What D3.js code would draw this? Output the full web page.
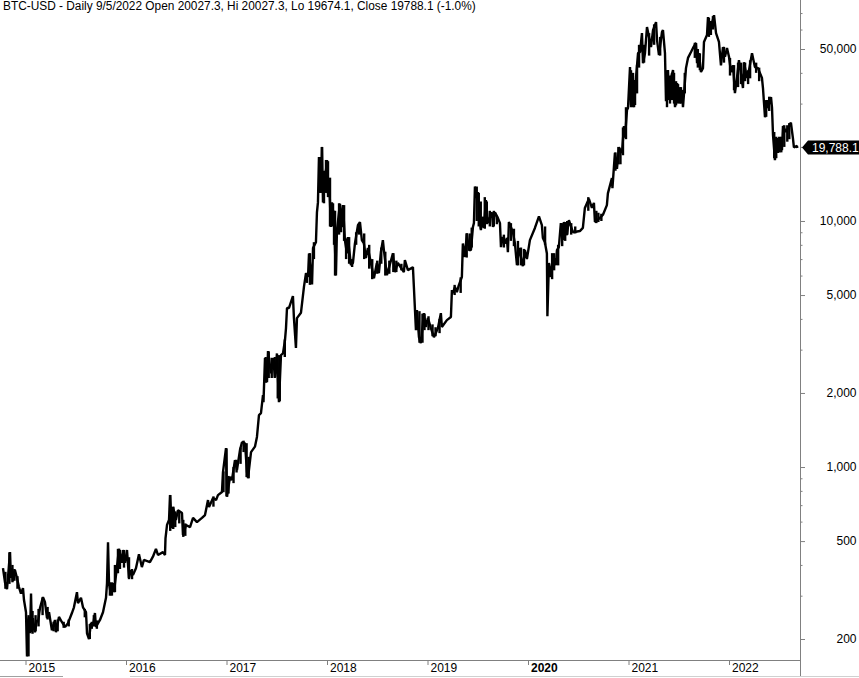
<!DOCTYPE html>
<html>
<head>
<meta charset="utf-8">
<script src="https://cdn.jsdelivr.net/npm/d3@7"></script>
<style>
  html, body { margin: 0; padding: 0; background: #fff; }
  svg { display: block; font-family: "Liberation Sans", Arial, sans-serif; }
</style>
</head>
<body>
<svg id="chart" width="859" height="678"></svg>
<script>
// Values: decimal year and price
const dates = [
  2014.776,2014.796,2014.816,2014.826,2014.846,2014.855,2014.865,2014.875,2014.895,2014.915,2014.935,2014.955,2014.975,2014.985,
  2015.005,2015.015,2015.025,2015.035,2015.045,2015.055,2015.064,2015.074,2015.094,2015.114,2015.124,2015.144,2015.174,2015.194,2015.214,2015.234,2015.263,2015.293,2015.303,2015.333,2015.363,2015.393,2015.423,2015.462,2015.482,2015.512,2015.522,2015.552,2015.572,2015.602,2015.612,2015.632,2015.651,2015.671,2015.691,2015.701,2015.741,2015.771,2015.801,2015.811,2015.821,2015.831,2015.850,2015.870,2015.880,2015.910,2015.930,2015.960,2015.970,2015.990,
  2016.010,2016.029,2016.049,2016.069,2016.099,2016.129,2016.158,2016.178,2016.238,2016.268,2016.298,2016.318,2016.368,2016.388,2016.393,2016.408,2016.428,2016.438,2016.458,2016.468,2016.497,2016.517,2016.557,2016.567,2016.597,2016.637,2016.667,2016.706,2016.756,2016.786,2016.816,2016.826,2016.866,2016.896,2016.915,2016.955,2016.965,2016.995,
  2017.005,2017.035,2017.054,2017.084,2017.104,2017.134,2017.154,2017.184,2017.204,2017.214,2017.244,2017.283,2017.303,2017.323,2017.343,2017.363,2017.368,2017.383,2017.403,2017.413,2017.443,2017.463,2017.483,2017.502,2017.522,2017.542,2017.562,2017.582,2017.592,2017.602,2017.622,2017.661,2017.671,2017.691,2017.701,2017.741,2017.771,2017.791,2017.811,2017.821,2017.851,2017.861,2017.890,2017.900,2017.910,2017.920,2017.940,2017.950,2017.960,2017.980,
  2018.000,2018.010,2018.020,2018.039,2018.049,2018.069,2018.089,2018.099,2018.129,2018.149,2018.159,2018.178,2018.198,2018.208,2018.238,2018.258,2018.278,2018.308,2018.328,2018.347,2018.367,2018.387,2018.407,2018.437,2018.467,2018.496,2018.516,2018.536,2018.556,2018.566,2018.596,2018.656,2018.676,2018.705,2018.765,2018.775,2018.805,2018.855,2018.865,2018.885,2018.895,2018.915,2018.934,2018.964,2018.984,
  2019.004,2019.034,2019.064,2019.104,2019.133,2019.143,2019.193,2019.233,2019.243,2019.253,2019.273,2019.292,2019.312,2019.342,2019.352,2019.372,2019.392,2019.412,2019.432,2019.452,2019.462,2019.472,2019.492,2019.502,2019.531,2019.551,2019.561,2019.581,2019.601,2019.641,2019.651,2019.671,2019.700,2019.721,2019.731,2019.750,2019.770,2019.790,2019.800,2019.810,2019.850,2019.870,2019.890,2019.909,2019.949,2019.969,2019.989,
  2020.019,2020.069,2020.109,2020.138,2020.148,2020.168,2020.188,2020.193,2020.208,2020.228,2020.248,2020.278,2020.288,2020.307,2020.327,2020.347,2020.357,2020.387,2020.407,2020.447,2020.516,2020.546,2020.566,2020.606,2020.636,2020.656,2020.666,2020.716,2020.746,2020.785,2020.795,2020.835,2020.840,2020.865,2020.885,2020.905,2020.935,2020.955,2020.965,2020.985,2020.995,
  2021.015,2021.025,2021.035,2021.055,2021.075,2021.095,2021.115,2021.134,2021.144,2021.164,2021.184,2021.224,2021.244,2021.274,2021.284,2021.303,2021.333,2021.343,2021.363,2021.373,2021.393,2021.403,2021.423,2021.443,2021.463,2021.483,2021.502,2021.532,2021.542,2021.572,2021.592,2021.622,2021.642,2021.672,2021.682,2021.701,2021.721,2021.741,2021.751,2021.781,2021.791,2021.811,2021.831,2021.851,2021.871,2021.900,2021.920,2021.940,2021.960,2021.980,
  2022.000,2022.020,2022.040,2022.059,2022.079,2022.099,2022.139,2022.149,2022.179,2022.199,2022.229,2022.258,2022.288,2022.328,2022.338,2022.358,2022.378,2022.388,2022.418,2022.428,2022.438,2022.457,2022.477,2022.487,2022.507,2022.527,2022.537,2022.567,2022.616,2022.636,2022.646,2022.676,2022.680
];
const prices = [
  388,340,319,357,451,354,388,344,381,354,325,306,322,288,
  257,170,232,246,211,306,213,243,213,239,234,267,296,282,243,257,217,239,213,246,234,224,232,255,269,310,280,294,269,257,211,200,232,226,255,224,239,257,294,337,495,337,302,337,310,392,465,408,460,408,
  460,354,381,364,388,442,392,419,411,432,465,439,451,439,513,581,609,769,564,687,609,668,650,529,581,570,621,597,621,638,734,687,749,734,769,791,954,1194,
  757,912,885,1067,972,1172,1261,1249,954,902,1150,1210,1325,1626,1655,1960,1835,2770,2210,2960,2405,2770,2320,2895,1835,2850,2895,3280,3670,4430,4430,4950,4030,3050,4030,4240,5410,6140,5920,7380,5520,7760,8200,10850,11900,18200,13100,20000,11900,14660,
  17680,12950,14950,9450,11900,10300,6000,9181,11750,9450,11600,8361,7380,8600,6610,6750,8100,9620,9900,8361,8100,7070,7760,6750,5850,6750,6140,7460,8361,7614,6020,7380,6200,6750,6200,6934,6314,6490,5340,3602,4343,3370,3190,4220,3710,
  4030,3670,3370,3670,4220,3710,3955,4070,5237,5090,5400,5140,5490,5920,8100,7140,8900,7614,7614,9450,9800,13800,12400,13100,9181,10400,9370,12160,9800,10850,9450,10850,10300,9800,7830,8600,8100,8530,7460,9900,9000,8100,6610,7760,6550,7614,7000,
  8361,9370,10450,9620,8530,8200,7380,4100,6750,5920,7270,6610,7614,7830,9800,8361,9900,8760,10080,9000,9100,9370,11300,12300,11300,11850,9900,10300,10600,11600,12950,14950,13600,18900,16300,19900,18900,24300,21800,28230,28800,
  42200,29000,39900,29000,38400,48100,48600,58000,43800,48100,61400,50900,59670,64300,54340,47200,58600,59670,48100,30700,41040,31000,38100,41040,29000,36300,31900,34040,29000,41800,46000,48600,50500,52900,43800,48100,40300,41800,53400,57000,67400,58600,63800,68600,58000,53400,42900,50900,46500,50500,
  46500,40300,42900,33100,38100,45070,34700,44200,38100,41040,48100,42200,41800,38100,34700,26400,31000,28800,31900,28800,22300,17680,21700,18900,21900,19410,24300,23000,25100,21700,19900,20200,19788.1
];

// High/low ranges read where the daily bars pile up into a thick band
const barDates = [
  2014.80,2014.84,2014.87,2014.89,2014.92,
  2015.03,2015.07,2015.10,2015.13,2015.17,2015.22,2015.28,2015.32,2015.38,2015.43,2015.59,2015.64,2015.66,2015.68,2015.71,2015.84,2015.86,2015.89,2015.92,2015.94,2015.98,
  2016.03,2016.06,2016.44,2016.47,2016.49,2016.53,2016.57,2016.59,2016.87,2016.97,
  2017.00,2017.02,2017.07,2017.10,2017.14,2017.17,2017.20,2017.22,2017.39,2017.42,2017.45,2017.48,2017.51,2017.53,2017.58,2017.80,2017.83,2017.87,2017.93,2017.95,2017.97,2017.99,
  2018.01,2018.03,2018.06,2018.07,2018.08,2018.12,2018.14,2018.17,2018.19,2018.22,2018.25,2018.29,2018.32,2018.37,2018.42,2018.45,2018.50,2018.54,2018.58,2018.62,2018.66,2018.69,2018.74,2018.92,2018.95,2018.97,
  2019.01,2019.05,2019.08,2019.12,2019.27,2019.33,2019.39,2019.42,2019.44,2019.49,2019.51,2019.53,2019.57,2019.59,2019.62,2019.66,2019.69,2019.76,2019.83,2019.86,2019.90,2019.93,2019.96,
  2020.17,2020.24,2020.26,2020.30,2020.34,2020.37,2020.39,2020.43,2020.47,2020.60,2020.68,2020.70,2020.73,2020.87,2020.90,2020.92,2020.945,2020.975,
  2021.025,2021.045,2021.065,2021.085,2021.105,2021.155,2021.205,2021.255,2021.315,2021.383,2021.413,2021.433,2021.453,2021.473,2021.493,2021.512,2021.522,2021.56,2021.66,2021.69,2021.71,2021.80,2021.82,2021.84,2021.95,
  2022.01,2022.05,2022.09,2022.12,2022.16,2022.19,2022.21,2022.27,2022.30,2022.37,2022.40,2022.45,2022.47,2022.50,2022.52,2022.55,2022.58,2022.60
];
const barHighs = [
  375,450,400,385,360,
  250,260,250,265,295,270,235,240,235,240,265,230,235,250,238,340,340,400,465,460,460,
  430,385,770,690,660,660,610,590,760,960,
  1190,920,1000,1070,1200,1280,1250,1100,2800,2950,2780,2800,2850,2850,3300,6100,7400,8200,18200,20000,16000,17700,
  17500,15000,11800,11000,11000,11800,11000,11600,8500,8600,7000,9000,9800,8900,8000,7000,6900,7800,7500,6900,7400,6900,6700,4300,4200,4200,
  4100,3800,3700,4000,5500,5900,8900,8900,9400,13800,13000,12000,12500,12000,11000,11000,10500,8800,9800,9300,8300,7800,7700,
  9500,7400,7400,8000,9800,9900,10000,9800,9500,12500,11000,10800,10700,19000,20000,19500,24000,29000,
  41000,40000,37400,43000,52000,52000,58000,63000,56000,41000,39000,40000,40000,37000,36000,35000,35000,40000,53000,50000,48000,67000,65000,68000,51000,
  46000,43000,44000,44000,44000,41000,45000,44000,42000,31000,32000,23000,22000,22000,22000,24500,24500,25000
];
const barLows = [
  320,335,340,345,320,
  170,210,215,225,250,240,215,215,222,225,245,200,220,225,220,300,300,310,370,385,390,
  350,350,550,560,570,590,520,525,690,790,
  760,780,860,950,1030,1150,910,900,2200,2300,2300,2300,1900,1850,2800,5600,5500,7000,13000,13000,11800,13000,
  12500,9500,9500,8000,6000,8800,9000,8300,7000,6700,6500,8000,8800,7000,6400,5800,6100,6700,6000,6100,6200,6200,6300,3200,3200,3600,
  3600,3400,3400,3500,5000,5100,7100,7600,7800,10000,9500,9300,9300,9700,9500,9500,9700,7800,8300,7900,6600,6600,6600,
  8000,5800,6300,6600,7900,8300,8800,8800,8900,11000,9800,9900,10000,16000,17000,17000,18500,21500,
  29600,29000,29600,33000,42000,44000,47000,52000,47000,29000,30000,31000,30000,29500,30000,30000,30000,33000,46000,42000,41000,56000,57000,60000,44000,
  39000,34000,35000,36000,37000,36000,38000,40000,37000,26500,28000,18000,18000,19000,19000,20000,21000,21500
];

const yearTicks = [2015, 2016, 2017, 2018, 2019, 2020, 2021, 2022];
const boldYear = 2020;
const priceLabels = [200, 500, 1000, 2000, 5000, 10000, 50000];
const minorPrices = [300, 400, 600, 700, 800, 900, 3000, 4000, 6000, 7000, 8000, 9000, 20000, 30000, 40000, 60000, 70000];
const lastClose = 19788.1;
const title = 'BTC-USD - Daily 9/5/2022 Open 20027.3, Hi 20027.3, Lo 19674.1, Close 19788.1 (-1.0%)';

const svg = d3.select('#chart');
const AXIS_X = 801;
const AXIS_Y = 660;
const GREY = '#808080';
const FONT = '"Liberation Sans", Arial, sans-serif';

const scaleX = d3.scaleLinear().domain([2015, 2022]).range([25.5, 729]);
const scaleY = d3.scaleLog().domain([200, 50000]).range([639, 49]);

// axis lines
svg.append('line').attr('x1', 0).attr('x2', AXIS_X).attr('y1', AXIS_Y + 0.5).attr('y2', AXIS_Y + 0.5)
  .attr('stroke', GREY);
svg.append('line').attr('x1', AXIS_X - 0.5).attr('x2', AXIS_X - 0.5).attr('y1', 0).attr('y2', 676)
  .attr('stroke', GREY);

// year axis
const xAxis = svg.append('g')
  .attr('transform', `translate(0,${AXIS_Y + 1})`)
  .call(d3.axisBottom(scaleX).tickValues(yearTicks).tickFormat(d3.format('d')).tickSize(4).tickSizeOuter(0));
xAxis.select('.domain').remove();
xAxis.selectAll('line').attr('stroke', GREY);
xAxis.selectAll('text')
  .attr('x', 2.5).attr('y', 2).attr('dy', '0.71em')
  .attr('text-anchor', 'start')
  .attr('font-size', 12)
  .attr('font-family', FONT)
  .attr('font-weight', d => d === boldYear ? 'bold' : 'normal')
  .attr('fill', '#000');

// price axis, labelled ticks are longer than the minor ones
const yAxis = svg.append('g')
  .attr('transform', `translate(${AXIS_X},0)`)
  .call(d3.axisRight(scaleY).tickValues(priceLabels).tickFormat(d3.format(',')).tickSize(4).tickSizeOuter(0));
yAxis.select('.domain').remove();
yAxis.selectAll('line').attr('stroke', GREY);
yAxis.selectAll('text')
  .attr('x', 55.5).attr('text-anchor', 'end')
  .attr('font-size', 12)
  .attr('font-family', FONT)
  .attr('fill', '#000');

const yMinor = svg.append('g')
  .attr('transform', `translate(${AXIS_X},0)`)
  .call(d3.axisRight(scaleY).tickValues(minorPrices).tickFormat('').tickSize(1.5).tickSizeOuter(0));
yMinor.select('.domain').remove();
yMinor.selectAll('line').attr('stroke', GREY);

// price line
const line = d3.line().x((d, i) => scaleX(dates[i])).y(d => scaleY(d));
svg.append('path').datum(prices)
  .attr('d', line)
  .attr('fill', 'none')
  .attr('stroke', '#000')
  .attr('stroke-width', 2.4)
  .attr('stroke-linejoin', 'bevel');

// high/low bars
svg.append('g').selectAll('line').data(barDates)
  .enter().append('line')
  .attr('x1', d => scaleX(d))
  .attr('x2', d => scaleX(d))
  .attr('y1', (d, i) => scaleY(barHighs[i]))
  .attr('y2', (d, i) => scaleY(barLows[i]))
  .attr('stroke', '#000')
  .attr('stroke-width', 2.4);

// last price tag
const tagY = scaleY(lastClose) - 0.5;
svg.append('path')
  .attr('d', `M${AXIS_X + 1},${tagY} L${AXIS_X + 7},${tagY - 7} L859,${tagY - 7} L859,${tagY + 7} L${AXIS_X + 7},${tagY + 7} Z`)
  .attr('fill', '#000');
svg.append('text')
  .attr('x', 812).attr('y', tagY + 4.5)
  .attr('font-size', 12)
  .attr('fill', '#fff')
  .text(d3.format(',.1f')(lastClose));

// title
svg.append('text').attr('x', 3).attr('y', 10)
  .attr('font-size', 11.87)
  .attr('fill', '#000')
  .text(title);

// scrollbar remains along the bottom edge
svg.append('line').attr('x1', 0).attr('x2', 63).attr('y1', 676.5).attr('y2', 676.5).attr('stroke', '#a0a0a0');
svg.append('line').attr('x1', 130).attr('x2', 859).attr('y1', 676.5).attr('y2', 676.5).attr('stroke', '#d0d0d0');
</script>
</body>
</html>
